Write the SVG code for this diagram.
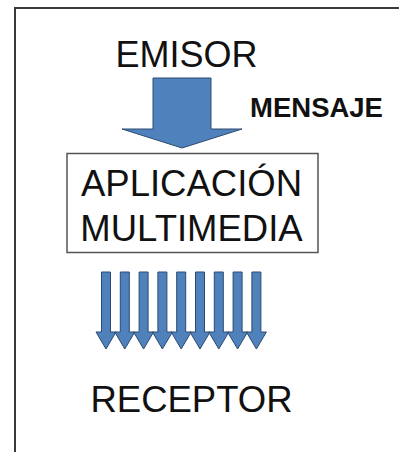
<svg xmlns="http://www.w3.org/2000/svg" width="399" height="452" viewBox="0 0 399 452">
  <style>
    .label { font-family: "Liberation Sans", Arial, sans-serif; fill: #111; text-anchor: middle; }
    .arrow { fill: #4f81bd; stroke: #2c4a6e; stroke-width: 1; stroke-linejoin: miter; }
    .frame { fill: none; stroke: #3a3a3a; stroke-width: 2; }
  </style>
  <defs>
    <!-- thin downward arrow, centred on x=0 -->
    <path id="thin-arrow" d="M -4.5 272 H 4.5 V 332 H 10 L 0 349 L -10 332 H -4.5 Z"/>
  </defs>

  <rect width="399" height="452" fill="#ffffff"/>
  <path class="frame" d="M 15 452 V 8 H 399"/>

  <g id="emisor">
    <text class="label" x="186.5" y="67" font-size="36">EMISOR</text>
  </g>

  <g id="connectors">
    <!-- message arrow from sender to the application -->
    <path class="arrow" d="M 153 78 H 211 V 129 H 242 L 182 148 L 122 129 H 153 Z"/>
    <!-- fan of arrows towards the receiver -->
    <g class="arrow">
      <use href="#thin-arrow" x="106"/>
      <use href="#thin-arrow" x="124.8"/>
      <use href="#thin-arrow" x="143.6"/>
      <use href="#thin-arrow" x="162.4"/>
      <use href="#thin-arrow" x="181.2"/>
      <use href="#thin-arrow" x="200"/>
      <use href="#thin-arrow" x="218.8"/>
      <use href="#thin-arrow" x="237.6"/>
      <use href="#thin-arrow" x="256.4"/>
    </g>
    <text class="label" x="316.5" y="117" font-size="27.5" font-weight="bold">MENSAJE</text>
  </g>

  <g id="aplicacion">
    <rect x="67" y="153.5" width="251" height="99" fill="#ffffff" stroke="#555555" stroke-width="1.5"/>
    <text class="label" x="191.5" y="196" font-size="36.5">APLICACIÓN</text>
    <text class="label" x="191.5" y="241" font-size="36.5">MULTIMEDIA</text>
  </g>

  <g id="receptor">
    <text class="label" x="191.5" y="412" font-size="36.5">RECEPTOR</text>
  </g>
</svg>
